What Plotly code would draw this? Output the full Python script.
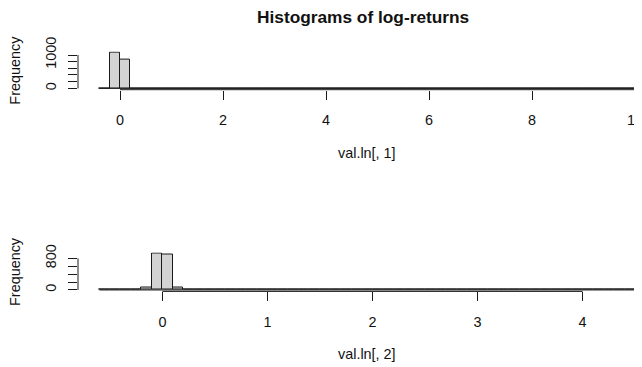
import plotly.graph_objects as go

# ---- data ----
# panel 1: val.ln[, 1], breaks -0.4 .. 10 step 0.2
breaks1_start = -0.4
breaks1_width = 0.2
counts1 = [4, 1060, 860, 3, 2, 1, 1, 1, 0, 1,
           0, 0, 1, 0, 0, 0, 0, 0, 0, 0,
           0, 0, 0, 0, 0, 0, 0, 0, 0, 0,
           0, 0, 0, 0, 0, 0, 0, 0, 0, 0,
           0, 0, 0, 0, 0, 0, 0, 0, 0, 0,
           0, 1]
xticks1 = [0, 2, 4, 6, 8, 10]
yticks1 = [0, 200, 400, 600, 800, 1000]
ylabels1 = ["0", "", "", "", "", "1000"]

# panel 2: val.ln[, 2], breaks -0.6 .. 4.5 step 0.1
breaks2_start = -0.6
breaks2_width = 0.1
counts2 = [1, 0, 2, 6, 58, 915, 912, 62, 8, 3,
           1, 1, 0, 1, 0, 0, 0, 0, 0, 0,
           0, 0, 0, 0, 0, 0, 0, 0, 0, 0,
           0, 0, 0, 0, 0, 0, 0, 0, 0, 0,
           0, 0, 0, 0, 0, 0, 0, 0, 0, 0,
           1]
xticks2 = [0, 1, 2, 3, 4]
yticks2 = [0, 200, 400, 600, 800]
ylabels2 = ["0", "", "", "", "800"]

title = "Histograms of log-returns"
xtitle1 = "val.ln[, 1]"
xtitle2 = "val.ln[, 2]"
ytitle = "Frequency"

# ---- layout constants (reference pixel coords; page body adds an 8px offset) ----
OFF = 8
W, H = 642 - OFF, 367 - OFF
ML = 78 - OFF
FONT = "Liberation Sans, Arial, sans-serif"
FS = 14.4
R_REGION_PX = 578.5          # width of the R plot region (cropped on the right)
VISIBLE_PX = W - ML

fig = go.Figure()


def py(ref_px):
    """reference page y pixel -> paper fraction"""
    return 1 - (ref_px - OFF) / H


def px(ref_px):
    """reference page x pixel -> paper fraction"""
    return (ref_px - OFF - ML) / VISIBLE_PX


def panel(idx, start, width, counts, xticks, yticks, ylabels, ytop, ybot, xtitle):
    n = len(counts)
    edges = [start + i * width for i in range(n + 1)]
    centers = [start + (i + 0.5) * width for i in range(n)]
    lo, hi = edges[0], edges[-1]
    span = hi - lo
    a, b = lo - 0.04 * span, hi + 0.04 * span
    right = a + (b - a) * VISIBLE_PX / R_REGION_PX
    ymax = max(counts)
    xa = "x" if idx == 1 else "x2"
    ya = "y" if idx == 1 else "y2"
    fig.add_trace(go.Bar(x=centers, y=counts, width=width, xaxis=xa, yaxis=ya,
                         marker=dict(color="#D3D3D3", line=dict(color="#1a1a1a", width=1)),
                         showlegend=False, hoverinfo="skip"))
    fig.add_trace(go.Scatter(x=[lo, hi], y=[0, 0], mode="lines", xaxis=xa, yaxis=ya,
                             line=dict(color="#1a1a1a", width=1),
                             showlegend=False, hoverinfo="skip"))
    axis_common = dict(showgrid=False, zeroline=False, showline=False, automargin=False,
                       ticks="outside", ticklen=9, tickwidth=1, tickcolor="#1a1a1a",
                       ticklabeloverflow="allow",
                       tickfont=dict(family=FONT, size=FS, color="#111"))
    xkey = "xaxis" if idx == 1 else "xaxis2"
    ykey = "yaxis" if idx == 1 else "yaxis2"
    fig.update_layout(**{
        xkey: dict(range=[a, right], domain=[0, 1], anchor=ya,
                   tickmode="array", tickvals=xticks, ticktext=[str(t) for t in xticks],
                   ticklabelstandoff=8, **axis_common),
        ykey: dict(range=[-0.04 * ymax, 1.04 * ymax], domain=[py(ybot), py(ytop)], anchor=xa,
                   tickmode="array", tickvals=yticks, ticktext=ylabels,
                   tickangle=-90, ticklabelstandoff=6, **axis_common),
    })
    # R style axis lines spanning first..last tick
    fig.add_shape(type="line", xref=xa, yref=f"{ya} domain", x0=xticks[0], x1=xticks[-1],
                  y0=0, y1=0, line=dict(color="#1a1a1a", width=1))
    fig.add_shape(type="line", xref=f"{xa} domain", yref=ya, x0=0, x1=0,
                  y0=yticks[0], y1=yticks[-1], line=dict(color="#1a1a1a", width=1))
    # axis titles
    center_x_ref = 78 + R_REGION_PX / 2
    fig.add_annotation(text=xtitle, xref="paper", yref="paper",
                       x=px(center_x_ref), y=py(ybot + 63),
                       showarrow=False, xanchor="center", yanchor="middle",
                       font=dict(family=FONT, size=FS, color="#111"))
    fig.add_annotation(text=ytitle, xref="paper", yref="paper",
                       x=px(15), y=py((ytop + ybot) / 2),
                       showarrow=False, xanchor="center", yanchor="middle", textangle=-90,
                       font=dict(family=FONT, size=FS, color="#111"))


panel(1, breaks1_start, breaks1_width, counts1, xticks1, yticks1, ylabels1,
      51.6, 89.7, xtitle1)
panel(2, breaks2_start, breaks2_width, counts2, xticks2, yticks2, ylabels2,
      252.5, 291.4, xtitle2)

fig.add_annotation(text="<b>" + title + "</b>", xref="paper", yref="paper",
                   x=px(363), y=py(17), showarrow=False,
                   xanchor="center", yanchor="middle",
                   font=dict(family=FONT, size=17.3, color="#111"))

fig.update_layout(width=W, height=H, margin=dict(l=ML, r=0, t=0, b=0, autoexpand=False),
                  paper_bgcolor="white", plot_bgcolor="white", bargap=0)

fig.write_html("out.html")
